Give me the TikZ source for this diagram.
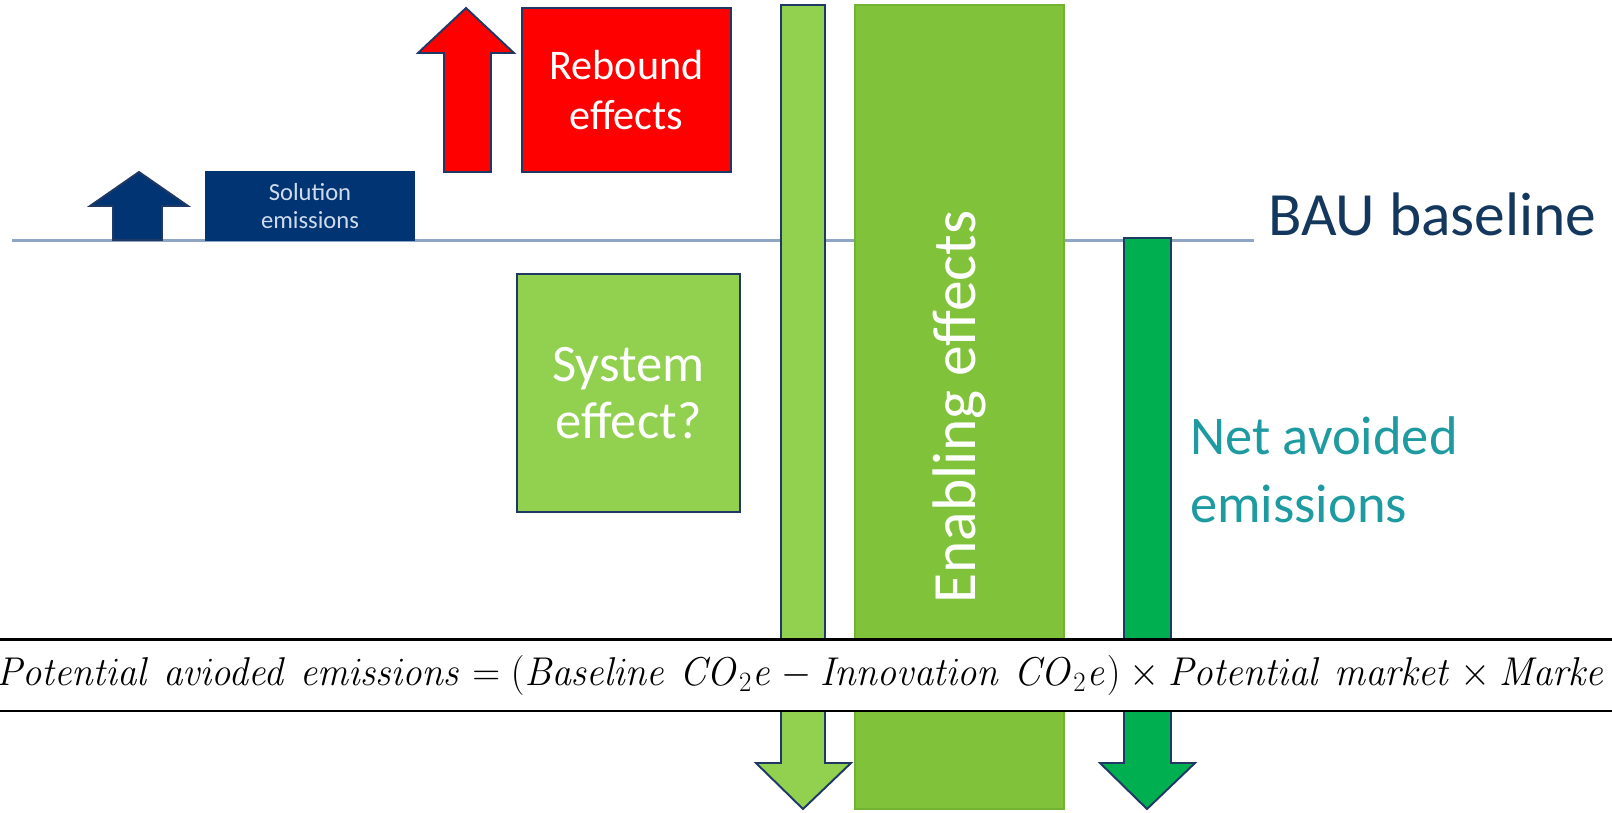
\documentclass[tikz,border=0pt]{standalone}
\usepackage{graphicx}
\usepackage[no-math]{fontspec}
\setmainfont{Carlito}
\definecolor{navyfill}{HTML}{003473}
\definecolor{navyline}{HTML}{1F3864}
\definecolor{solutiontext}{HTML}{D0DCEE}
\definecolor{reboundred}{HTML}{FF0000}
\definecolor{systemgreen}{HTML}{92D050}
\definecolor{enablegreen}{HTML}{80C239}
\definecolor{enableline}{HTML}{72B332}
\definecolor{netgreen}{HTML}{00B050}
\definecolor{basegray}{HTML}{8FA5C5}
\definecolor{bautext}{HTML}{14375E}
\definecolor{nettext}{HTML}{1E9BA0}

\begin{document}
\begin{tikzpicture}[x = 0.02cm, y = -0.02cm]
\tikzstyle{BoxStyle}=[draw = navyline, line width = 1.1pt,
                      inner sep = 0pt, align = center, text = white]
\tikzstyle{ArrowStyle}=[draw = navyline, line width = 1.1pt, line join = miter]
\useasboundingbox (0,0) rectangle (1612,812);
\clip (0,0) rectangle (1612,812);
% BAU baseline
\coordinate (bw) at (12,240);
\coordinate (be) at (1254,240);
\draw[draw = basegray, line width = 1.7pt] (bw) -- (be);
\node[anchor = west, text = bautext, font = \fontsize{35}{40}\selectfont] (bau) at (1262,214) {BAU baseline};
% solution emissions
\filldraw[ArrowStyle, fill = navyfill] (113,240) -- (113,206) -- (90,206) -- (139,172) -- (188,206) -- (162,206) -- (162,240) -- cycle;
\node[BoxStyle, fill = navyfill, draw = navyfill, text = solutiontext,
      minimum width = 4.16cm, minimum height = 1.36cm,
      font = \fontsize{14}{16}\selectfont] (sol) at (310,206) {Solution\\emissions};
% rebound
\filldraw[ArrowStyle, fill = reboundred] (444,172) -- (444,53) -- (418,53) -- (466,8) -- (514,53) -- (491,53) -- (491,172) -- cycle;
\node[BoxStyle, fill = reboundred, minimum width = 4.18cm, minimum height = 3.28cm,
      font = \fontsize{24}{28}\selectfont] (reb) at (626.5,90) {Rebound\\effects};
% system
\node[BoxStyle, fill = systemgreen, minimum width = 4.46cm, minimum height = 4.76cm,
      font = \fontsize{30}{32}\selectfont] (sys) at (628.5,393) {System\\effect?};
% enabling
\filldraw[ArrowStyle, fill = systemgreen] (781,5) -- (825,5) -- (825,763) -- (851,763) -- (803,809) -- (756,763) -- (781,763) -- cycle;
\node[BoxStyle, fill = enablegreen, draw = enableline, rotate = 90,
      minimum width = 16.08cm, minimum height = 4.18cm,
      font = \fontsize{35}{40}\selectfont] (ena) at (959.5,407) {Enabling effects};
% net avoided
\filldraw[ArrowStyle, fill = netgreen] (1124,238) -- (1171,238) -- (1171,763) -- (1195,763) -- (1147,809) -- (1100,763) -- (1124,763) -- cycle;
\node[anchor = west, align = left, text = nettext, font = \fontsize{31}{39}\selectfont] (net) at (1184,470) {Net avoided\\emissions};
% formula
\node[draw = black, fill = white, line width = 1.7pt, anchor = west,
      inner xsep = 0.4cm, minimum height = 1.44cm, text width = 33.5cm, align = left,
      font = \fontsize{25}{30}\selectfont] (formula) at (-25,675)
      {\scalebox{0.885}[0.92]{$\mathit{Potential\ avioded\ emissions} = (\mathit{Baseline}\ \mathit{CO}_2\mathit{e} - \mathit{Innovation}\ \mathit{CO}_2\mathit{e}) \times \mathit{Potential\ market} \times \mathit{Marke}$}};
\end{tikzpicture}
\end{document}
